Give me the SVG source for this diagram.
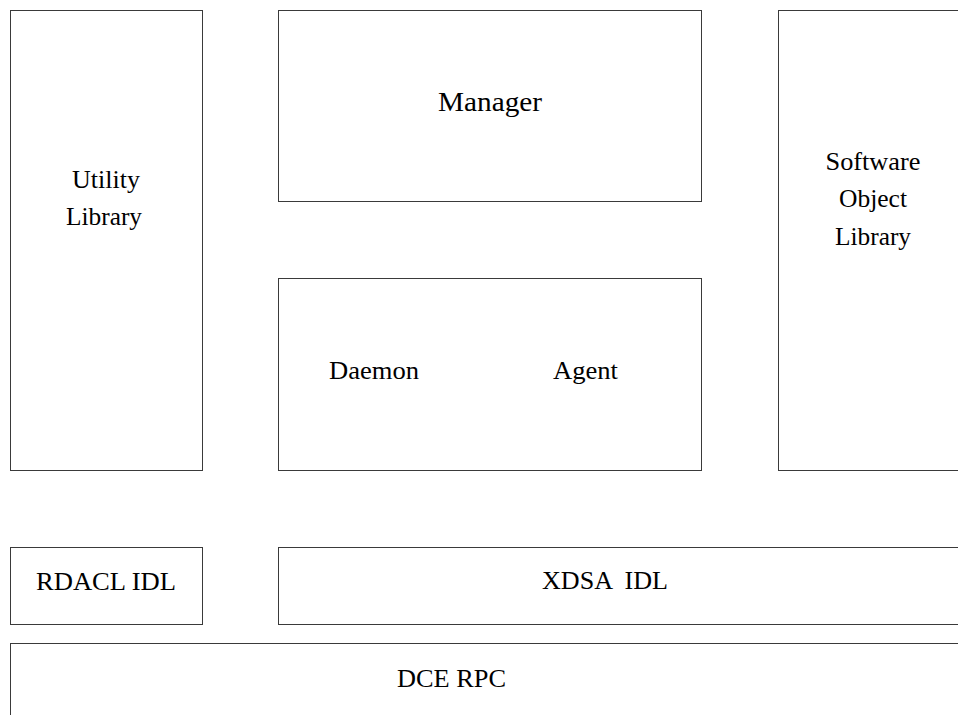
<svg xmlns="http://www.w3.org/2000/svg" width="958" height="715" viewBox="0 0 958 715">
<style>
rect{fill:#fff;stroke:#3a3a3a;stroke-width:1}
text{font-family:"Liberation Serif","Times New Roman",serif;font-size:25px;fill:#000;text-anchor:middle}
.m{font-size:27px}
</style>
<rect x="0" y="0" width="958" height="715" style="stroke:none"/>
<g id="utility-library">
<rect x="10.5" y="10.5" width="192" height="460"/>
<text x="106" y="188" textLength="68" lengthAdjust="spacingAndGlyphs">Utility</text>
<text x="104" y="225" textLength="76" lengthAdjust="spacingAndGlyphs">Library</text>
</g>
<g id="manager">
<rect x="278.5" y="10.5" width="423" height="191"/>
<text class="m" x="490" y="111" textLength="104" lengthAdjust="spacingAndGlyphs">Manager</text>
</g>
<g id="software-object-library">
<rect x="778.5" y="10.5" width="190" height="460"/>
<text x="873" y="170" textLength="95" lengthAdjust="spacingAndGlyphs">Software</text>
<text x="873" y="207" textLength="68" lengthAdjust="spacingAndGlyphs">Object</text>
<text x="873" y="245" textLength="76" lengthAdjust="spacingAndGlyphs">Library</text>
</g>
<g id="daemon-agent">
<rect x="278.5" y="278.5" width="423" height="192"/>
<text x="374" y="379" textLength="90" lengthAdjust="spacingAndGlyphs">Daemon</text>
<text x="585.5" y="379" textLength="65" lengthAdjust="spacingAndGlyphs">Agent</text>
</g>
<g id="rdacl-idl">
<rect x="10.5" y="547.5" width="192" height="77"/>
<text x="106" y="590" textLength="140" lengthAdjust="spacingAndGlyphs">RDACL IDL</text>
</g>
<g id="xdsa-idl">
<rect x="278.5" y="547.5" width="690" height="77"/>
<text x="605" y="589" textLength="126" lengthAdjust="spacingAndGlyphs" xml:space="preserve">XDSA  IDL</text>
</g>
<g id="dce-rpc">
<rect x="10.5" y="643.5" width="958" height="90"/>
<text x="451.5" y="687" textLength="109" lengthAdjust="spacingAndGlyphs">DCE RPC</text>
</g>
<g id="connectors"></g>
</svg>
